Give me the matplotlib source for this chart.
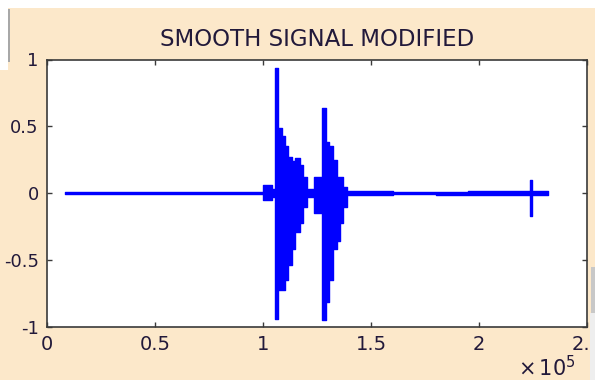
import matplotlib
matplotlib.use("Agg")
import matplotlib.pyplot as plt
from matplotlib.patches import Rectangle

# ---- data ----
# step envelope of the signal: segment start positions (samples), upper and lower values
env_x = [8300, 30000, 60000, 90000, 100000, 104200, 105600, 106900, 108800, 110200,
         111600, 113400, 114800, 117100, 118500, 120400, 123600, 127300, 129200, 130600,
         132400, 134300, 135600, 137000, 138900, 160000, 180000, 195000, 223700, 224500,
         232000]
env_hi = [0.006, 0.007, 0.007, 0.008, 0.065, 0.03, 0.94, 0.49, 0.43, 0.35,
          0.27, 0.24, 0.26, 0.21, 0.12, 0.03, 0.12, 0.64, 0.385, 0.35,
          0.25, 0.12, 0.12, 0.05, 0.015, 0.008, 0.012, 0.016, 0.10, 0.016,
          0.016]
env_lo = [-0.006, -0.007, -0.007, -0.008, -0.05, -0.03, -0.94, -0.72, -0.72, -0.65,
          -0.54, -0.42, -0.29, -0.22, -0.10, -0.03, -0.15, -0.95, -0.81, -0.65,
          -0.42, -0.36, -0.22, -0.10, -0.015, -0.008, -0.012, -0.016, -0.17, -0.016,
          -0.016]

x_ticks = [0, 50000, 100000, 150000, 200000, 250000]
x_tick_labels = ["0", "0.5", "1", "1.5", "2", "2.5"]
y_ticks = [-1, -0.5, 0, 0.5, 1]
y_tick_labels = ["-1", "-0.5", "0", "0.5", "1"]
title = "SMOOTH SIGNAL MODIFIED"
x_exponent = r"$\times\,10^{5}$"

# ---- figure ----
W, H = 595, 380
BEIGE = "#FCE8CA"
TXT = "#22193a"
fig = plt.figure(figsize=(W / 100, H / 100), dpi=100, facecolor=BEIGE)
plt.rcParams["font.family"] = ["DejaVu Sans"]

ax = fig.add_axes([47 / W, (H - 327) / H, 540 / W, (327 - 59.5) / H])
ax.set_facecolor("white")
ax.fill_between(env_x, env_hi, env_lo, step="post", color="#0000FF",
                edgecolor="#0000FF", linewidth=1.0)
ax.set_xlim(0, 250000)
ax.set_ylim(-1, 1)
ax.set_xticks(x_ticks)
ax.set_xticklabels(x_tick_labels)
ax.set_yticks(y_ticks)
ax.set_yticklabels(y_tick_labels)
for s in ax.spines.values():
    s.set_color("#3a3a3a")
    s.set_linewidth(1.2)
ax.tick_params(direction="in", length=3.6, width=1.0, color="#3a3a3a",
               top=True, right=True, labelsize=14, labelcolor=TXT)
ax.tick_params(axis="x", pad=6)
ax.tick_params(axis="y", pad=6, labelsize=13)
ax.set_title(title, fontsize=16.5, color=TXT, pad=10)

fig.text(518 / W, (H - 376) / H, x_exponent, fontsize=15, color=TXT,
         ha="left", va="baseline")

# window-frame remnants at the edges of the screenshot
def px_rect(x0, y0, x1, y1, color):
    fig.patches.append(Rectangle((x0 / W, (H - y1) / H), (x1 - x0) / W, (y1 - y0) / H,
                                 transform=fig.transFigure, facecolor=color,
                                 edgecolor="none", zorder=10))

px_rect(0, 0, W, 8, "white")
px_rect(0, 0, 8, 70, "white")
px_rect(8, 9, 10, 62, "#a8a8a8")
px_rect(591, 267, W, 313, "#c8c8c8")
px_rect(589.5, 313, W, H, "#eeeeee")

fig.savefig("out.png", dpi=100, facecolor=BEIGE)
